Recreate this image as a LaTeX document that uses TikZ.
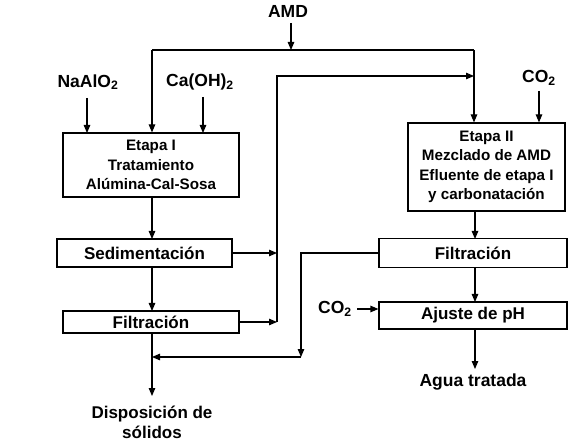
\documentclass[tikz,border=0pt]{standalone}
\usepackage{fontspec}
\setmainfont{Liberation Sans}
\usetikzlibrary{arrows.meta}
\begin{document}
\begin{tikzpicture}[x=1pt,y=-1pt,
  line width=1.1pt,
  arr/.style={-{Triangle[length=8pt,width=6.5pt]}},
  box/.style={draw,line width=1.1pt,inner sep=0pt,align=center},
  multi/.style={box,font=\bfseries\fontsize{15.2}{19.4}\selectfont},
  single/.style={box,font=\bfseries\fontsize{17}{19}\selectfont},
  lbl/.style={inner sep=0pt,align=center,font=\bfseries\fontsize{17.5}{20}\selectfont}]
\useasboundingbox (0,0) rectangle (583,443);
% boxes
\node[multi,minimum width=176pt,minimum height=64pt] (E1) at (151,165) {Etapa I\\Tratamiento\\Alúmina-Cal-Sosa};
\node[single,minimum width=175pt,minimum height=28pt] (Sed) at (144.5,253) {Sedimentación};
\node[single,minimum width=176pt,minimum height=22pt] (F1) at (151,322) {Filtración};
\node[multi,minimum width=157pt,minimum height=88pt] (E2) at (486.5,167) {Etapa II\\Mezclado de AMD\\Efluente de etapa I\\y carbonatación};
\node[single,minimum width=188pt,minimum height=29pt] (F2) at (473,253) {Filtración};
\node[single,minimum width=188pt,minimum height=27pt] (Aj) at (473,315.5) {Ajuste de pH};
% labels
\node[lbl] (AMD) at (288,11) {AMD};
\node[lbl] (Na) at (88,82) {NaAlO\textsubscript{2}};
\node[lbl] (Ca) at (200,82) {Ca(OH)\textsubscript{2}};
\node[lbl] (COa) at (539,78) {CO\textsubscript{2}};
\node[lbl] (COb) at (335,309) {CO\textsubscript{2}};
\node[lbl] (Agua) at (473,382) {Agua tratada};
\node[lbl,font=\bfseries\fontsize{17}{20}\selectfont] (Disp) at (152,422) {Disposición de\\sólidos};
% coordinates
\coordinate (tl) at (152,50);
\coordinate (tr) at (474,50);
\coordinate (amdtop) at (291,23);
\coordinate (amdbot) at (291,50);
\coordinate (riser) at (277,76);
\coordinate (riserend) at (474,76);
\coordinate (rb) at (277,322);
\coordinate (sedend) at (277,253);
\coordinate (dr) at (301,253);
\coordinate (dd) at (301,357);
\coordinate (dl) at (152,357);
\coordinate (dispend) at (152,396);
\coordinate (aguaend) at (475,369);
\coordinate (cobstart) at (357,309);
% connectors
\draw[arr] (amdtop) -- (amdbot);
\draw (tl) -- (tr);
\draw[arr] (tl) -- (tl |- E1.north);
\draw[arr] (tr) -- (tr |- E2.north);
\draw[arr] (87,98) -- (87,133);
\draw[arr] (203,97) -- (203,133);
\draw[arr] (COa.south) ++(0,5) -- (COa.south |- E2.north);
\draw[arr] (E1.south -| 152,0) -- (152,239);
\draw[arr] (Sed.south -| 152,0) -- (152,311);
\draw[arr] (F1.south -| 152,0) -- (dispend);
\draw[arr] (Sed.east) -- (sedend);
\draw[arr] (F1.east) -- (rb);
\draw[arr] (rb) -- (riser) -- (riserend);
\draw[arr] (E2.south -| 475,0) -- (475,239);
\draw[arr] (F2.south -| 475,0) -- (475,302);
\draw[arr] (Aj.south -| 475,0) -- (aguaend);
\draw[arr] (cobstart) -- (Aj.west |- cobstart);
\draw[arr] (F2.west) -- (dr) -- (dd);
\draw[arr] (dd) -- (dl);
\end{tikzpicture}
\end{document}
